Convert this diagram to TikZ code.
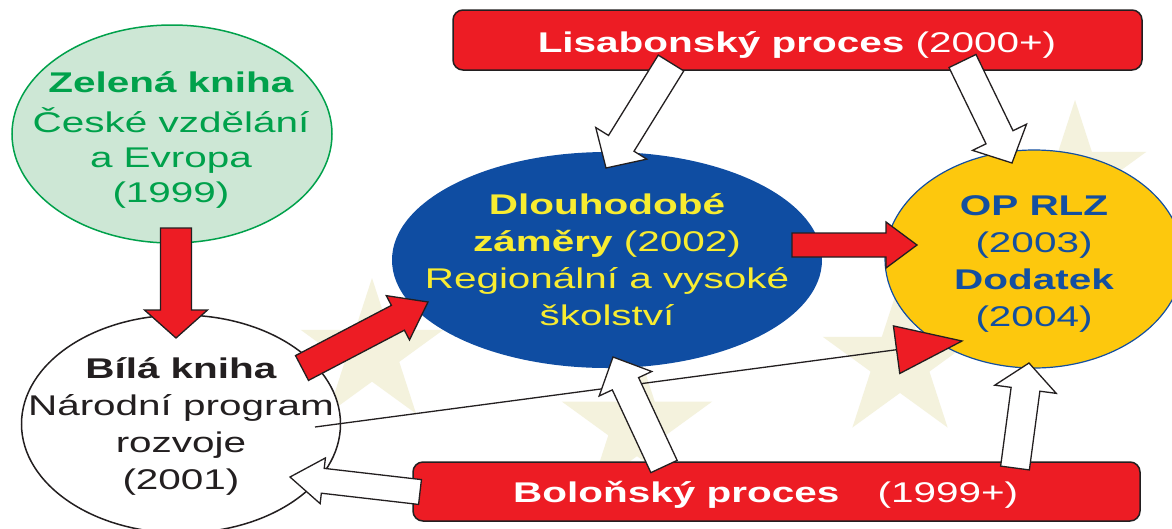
\documentclass[tikz,border=0pt]{standalone}
\usepackage{fontspec}
\setmainfont{Liberation Sans}[FakeStretch=1.42]
\usetikzlibrary{calc,shapes.geometric}
\definecolor{ered}{HTML}{ED1C24}
\definecolor{outl}{HTML}{231F20}
\definecolor{eblue}{HTML}{0F4DA2}
\definecolor{eyel}{HTML}{F8EC31}
\definecolor{gold}{HTML}{FDC80D}
\definecolor{tblue}{HTML}{134FA0}
\definecolor{gfill}{HTML}{CDE7D5}
\definecolor{gline}{HTML}{00A14B}
\definecolor{starc}{HTML}{F4F2DD}
\tikzset{
  blockarrow/.style={draw=outl, line width=1.3, line join=miter},
  rbox/.style={draw=outl, line width=1.5, fill=ered, rounded corners=10, inner sep=0},
  txt/.style={align=center, inner sep=0, font=\fontsize{28.5}{37}\selectfont},
  boxtxt/.style={inner sep=0, text=white, font=\fontsize{28.5}{37}\selectfont, anchor=base},
}
% #1 from, #2 to, #3 half shaft, #4 half head, #5 head length, #6 fill
\newcommand\fatarrow[6]{%
  \coordinate (fah) at ($(#2)!#5pt!(#1)$);
  \draw[blockarrow, fill=#6] ($(#1)!#3pt!90:(#2)$) -- ($(fah)!#3pt!90:(#2)$) -- ($(fah)!#4pt!90:(#2)$) -- (#2) -- ($(fah)!#4pt!-90:(#2)$) -- ($(fah)!#3pt!-90:(#2)$) -- ($(#1)!#3pt!-90:(#2)$) -- cycle;}
\newcommand\eustar[3]{%
  \fill[starc, shift={(#1,-#2)}] (90:#3) \foreach \k in {1,...,9}{ -- ({90+36*\k}:{#3*(1-0.618*mod(\k,2))}) } -- cycle;}
\begin{document}
\begin{tikzpicture}[x=1pt, y=1pt]
\useasboundingbox (0,0) rectangle (1172,-528);
\fill[white] (0,0) rectangle (1172,-528);
% background stars
\eustar{372}{353}{75}
\eustar{637}{426}{79}
\eustar{1075}{175}{75}
\eustar{900}{362}{81}
% ellipses
\node[ellipse, draw=gline, line width=1.5, fill=gfill, minimum width=320, minimum height=218, inner sep=0] (green) at (172,-134) {};
\node[ellipse, draw=outl, line width=1.5, fill=white, minimum width=319, minimum height=218, inner sep=0] (white) at (181,-424) {};
\node[ellipse, fill=eblue, minimum width=430, minimum height=216, inner sep=0] (blue) at (607,-260) {};
\node[ellipse, draw=tblue, line width=1.2, fill=gold, minimum width=298, minimum height=218, inner sep=0] (yellow) at (1034,-259) {};
% boxes
\node[rbox, minimum width=689, minimum height=60] (lis) at (797.5,-40) {};
\node[rbox, minimum width=727, minimum height=59] (bol) at (776.5,-491.5) {};
% texts
\node[txt, text=gline] (greentxt) at (171,-139.6) {\textbf{Zelená kniha}\\[3pt]České vzdělání\\[-2pt]a Evropa\\[-2pt](1999)};
\node[txt, text=outl] (whitetxt) at (181,-426) {\textbf{Bílá kniha}\\Národní program\\rozvoje\\(2001)};
\node[txt, text=eyel] (bluetxt) at (607,-259.5) {\textbf{Dlouhodobé}\\\textbf{záměry} (2002)\\Regionální a vysoké\\školství};
\node[txt, text=tblue] (yellowtxt) at (1034,-264) {\textbf{OP RLZ}\\(2003)\\\textbf{Dodatek}\\(2004)};
\node[boxtxt] (listxt) at (797,-52) {\textbf{Lisabonský proces} (2000+)};
\node[boxtxt, anchor=base west] (boltxt) at (513,-502) {\textbf{Boloňský proces}\hspace{27pt} (1999+)};
% arrow end points
\coordinate (a1s) at (176,-228);   \coordinate (a1e) at (176,-338);
\coordinate (a2s) at (302,-368);   \coordinate (a2e) at (428,-302);
\coordinate (a3s) at (792,-245);   \coordinate (a3e) at (917,-245);
\coordinate (a5s) at (671,-63);    \coordinate (a5e) at (606,-168);
\coordinate (a6s) at (962.5,-61);  \coordinate (a6e) at (1012,-163);
\coordinate (a7s) at (664,-466.5); \coordinate (a7e) at (613,-357);
\coordinate (a8s) at (1015,-468);  \coordinate (a8e) at (1029,-363);
\coordinate (a9s) at (420,-492);   \coordinate (a9e) at (290,-477);
\coordinate (ls) at (315,-427);    \coordinate (le) at (962,-341);
% thin line with triangular head
\coordinate (tb) at ($(le)!66pt!(ls)$);
\draw[outl, line width=1.3] (ls) -- (tb);
\draw[blockarrow, fill=ered] ($(tb)!24pt!90:(le)$) -- (le) -- ($(tb)!24pt!-90:(le)$) -- cycle;
% red arrows
\fatarrow{a1s}{a1e}{15.5}{31.5}{28}{ered}
\fatarrow{a2s}{a2e}{14}{25}{34}{ered}
\fatarrow{a3s}{a3e}{12}{23}{31}{ered}
% white arrows
\fatarrow{a5s}{a5e}{15}{30}{29}{white}
\fatarrow{a6s}{a6e}{15}{30}{28.6}{white}
\fatarrow{a7s}{a7e}{14.5}{29}{29.5}{white}
\fatarrow{a8s}{a8e}{14.5}{31}{26.5}{white}
\fatarrow{a9s}{a9e}{12.5}{23}{33}{white}
\end{tikzpicture}
\end{document}
